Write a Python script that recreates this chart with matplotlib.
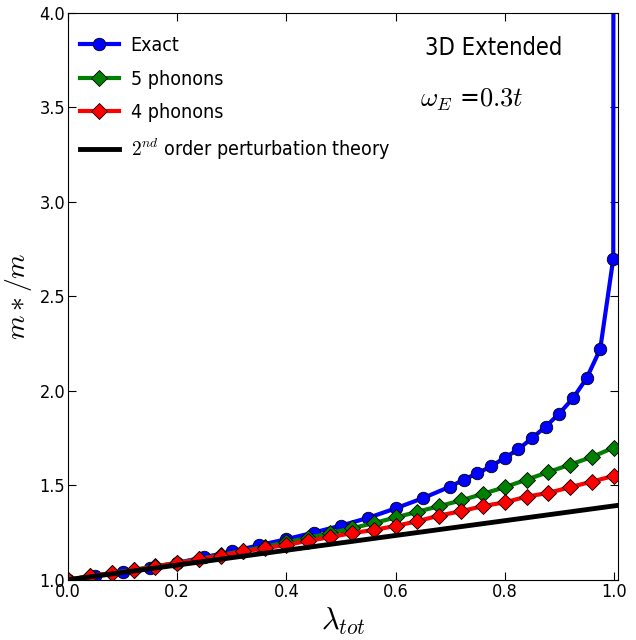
import numpy as np
import matplotlib
matplotlib.use('Agg')
import matplotlib.pyplot as plt

plt.rcParams.update({
    'font.family': 'DejaVu Sans',
    'font.stretch': 'condensed',
    'mathtext.fontset': 'cm',
    'xtick.direction': 'in',
    'ytick.direction': 'in',
    'xtick.top': True,
    'ytick.right': True,
    'xtick.major.size': 6,
    'ytick.major.size': 6,
    'xtick.major.pad': 2,
    'ytick.major.pad': 2,
    'xtick.labelsize': 13,
    'ytick.labelsize': 13,
})

# exact result
lam_exact = [0.0, 0.05, 0.10, 0.15, 0.20, 0.25, 0.30, 0.35, 0.40, 0.45, 0.50, 0.55,
             0.60, 0.65, 0.70, 0.725, 0.75, 0.775, 0.80, 0.825, 0.85, 0.875, 0.90,
             0.925, 0.95, 0.975, 0.999, 1.0]
m_exact = [1.0, 1.02, 1.04, 1.065, 1.09, 1.12, 1.15, 1.183, 1.215, 1.25, 1.287, 1.328,
           1.378, 1.432, 1.493, 1.53, 1.564, 1.60, 1.646, 1.69, 1.75, 1.81, 1.88,
           1.96, 2.066, 2.22, 2.70, 10.0]

# truncated phonon bases
lam_ph = [0.0, 0.04, 0.08, 0.12, 0.16, 0.20, 0.24, 0.28, 0.32, 0.36, 0.40, 0.44, 0.48,
          0.52, 0.56, 0.60, 0.64, 0.68, 0.72, 0.76, 0.80, 0.84, 0.88, 0.92, 0.96, 1.00]
m_5ph = [1.0, 1.02, 1.036, 1.053, 1.072, 1.09, 1.11, 1.132, 1.153, 1.175, 1.198, 1.222,
         1.247, 1.273, 1.30, 1.33, 1.36, 1.39, 1.42, 1.455, 1.49, 1.53, 1.57, 1.61,
         1.65, 1.70]
m_4ph = [1.0, 1.02, 1.035, 1.05, 1.07, 1.088, 1.108, 1.128, 1.15, 1.167, 1.185, 1.206,
         1.226, 1.247, 1.264, 1.285, 1.31, 1.34, 1.363, 1.39, 1.41, 1.44, 1.46, 1.49,
         1.52, 1.55]

# 2nd order perturbation theory
lam_pt = [0.0, 1.01]
m_pt = [1.0, 1.395]

fig = plt.figure(figsize=(6.36, 6.40), dpi=100)
ax = fig.add_axes([0.107, 0.094, 0.865, 0.886])

ax.plot(lam_exact, m_exact, '-o', color='blue', lw=3, ms=9, mec='k', mew=0.6,
        label='Exact')
ax.plot(lam_ph, m_5ph, '-D', color='green', lw=3, ms=8, mec='k', mew=0.6,
        label='5 phonons')
ax.plot(lam_ph, m_4ph, '-D', color='red', lw=3, ms=8, mec='k', mew=0.6,
        label='4 phonons')
ax.plot(lam_pt, m_pt, '-', color='black', lw=3.5,
        label=r'$2^{nd}$ order perturbation theory')

ax.set_xlim(0, 1.008)
ax.set_ylim(1.0, 4.0)
ax.set_xticks(np.arange(0, 1.01, 0.2))
ax.set_yticks(np.arange(1.0, 4.01, 0.5))
ax.set_xlabel(r'$\lambda_{tot}$', fontsize=22, labelpad=4)
ax.set_ylabel(r'$m*/m$', fontsize=20, labelpad=4)

ax.text(0.649, 0.938, '3D Extended', transform=ax.transAxes, fontsize=17, va='center')
ax.text(0.64, 0.847, r'$\omega_E$ =$0.3t$', transform=ax.transAxes, fontsize=19,
        va='center')

ax.legend(loc='upper left', bbox_to_anchor=(-0.01, 0.99), frameon=False, fontsize=14,
          handlelength=2.0, handletextpad=0.6, labelspacing=0.75)

fig.savefig('out.png', dpi=100)
